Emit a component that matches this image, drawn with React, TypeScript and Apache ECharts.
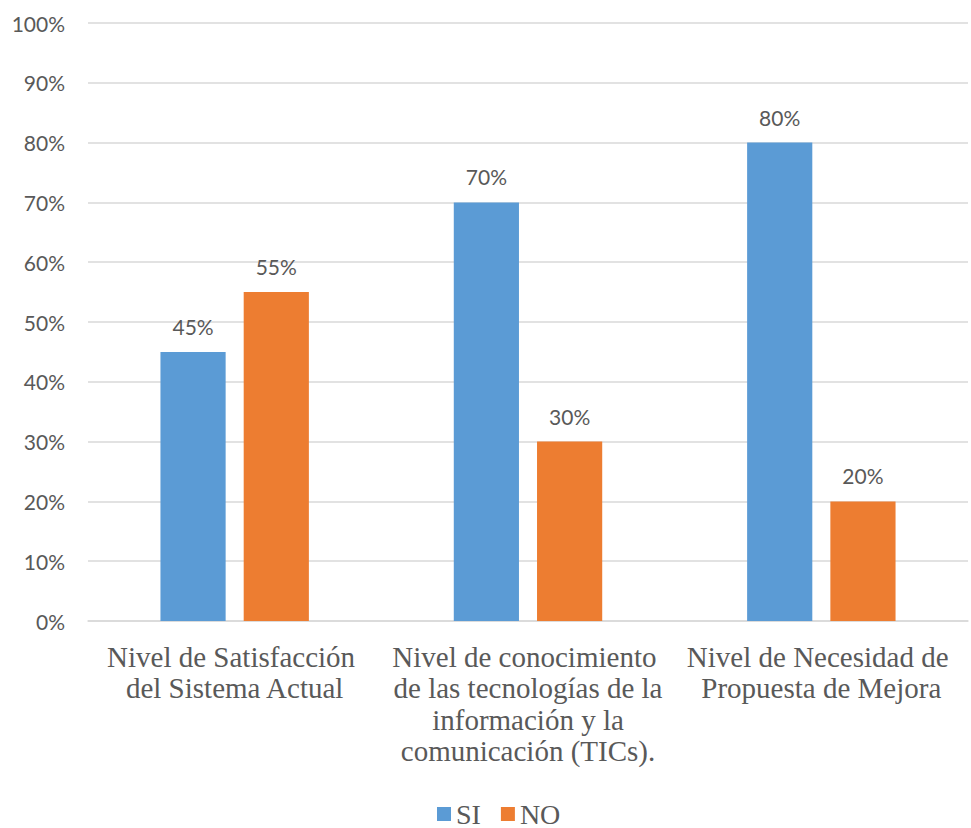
import React, { useEffect, useRef } from "react";
import * as echarts from "echarts";

const categories = [
  "Nivel de Satisfacción del Sistema Actual",
  "Nivel de conocimiento de las tecnologías de la información y la comunicación (TICs).",
  "Nivel de Necesidad de Propuesta de Mejora",
];
const siValues = [45, 70, 80];
const noValues = [55, 30, 20];

const TEXT = "#595959";
const SANS = "Lato, 'Open Sans', sans-serif";
const SERIF = "'Liberation Serif', 'DejaVu Serif', serif";

export default function App() {
  const ref = useRef<HTMLDivElement>(null);

  useEffect(() => {
    if (!ref.current) return;
    const chart = echarts.init(ref.current, undefined, { renderer: "svg" });
    const label = {
      show: true,
      position: "top" as const,
      distance: 15,
      formatter: "{c}%",
      color: TEXT,
      fontFamily: SANS,
      fontSize: 21,
    };
    chart.setOption({
      animation: false,
      grid: { left: 88, right: 3, top: 23, bottom: 207, containLabel: false },
      legend: {
        top: 800,
        left: 437,
        padding: 0,
        itemWidth: 14,
        itemHeight: 14,
        itemGap: 20,
        icon: "rect",
        textStyle: { color: TEXT, fontFamily: SERIF, fontSize: 28, lineHeight: 26 },
        data: ["SI", "NO"],
      },
      xAxis: {
        type: "category",
        data: categories,
        axisTick: { show: false },
        axisLine: { lineStyle: { color: "#d9d9d9", width: 1.5 } },
        axisLabel: {
          color: TEXT,
          fontFamily: SERIF,
          fontSize: 29,
          lineHeight: 31.5,
          margin: 20,
          width: 292,
          overflow: "break",
          interval: 0,
        },
      },
      yAxis: {
        type: "value",
        min: 0,
        max: 100,
        interval: 10,
        axisLine: { show: false },
        axisTick: { show: false },
        splitLine: { lineStyle: { color: "#d9d9d9", width: 1.5 } },
        axisLabel: {
          formatter: "{value}%",
          color: TEXT,
          fontFamily: SANS,
          fontSize: 21,
          margin: 23,
        },
      },
      series: [
        {
          name: "SI",
          type: "bar",
          data: siValues,
          itemStyle: { color: "#5B9BD5" },
          barGap: "27.7%",
          barCategoryGap: "49.4%",
          label,
        },
        {
          name: "NO",
          type: "bar",
          data: noValues,
          itemStyle: { color: "#ED7D31" },
          label,
        },
      ],
    });
    return () => chart.dispose();
  }, []);

  return (
    <div
      ref={ref}
      style={{ position: "absolute", left: 0, top: 0, width: 971, height: 828 }}
    />
  );
}
